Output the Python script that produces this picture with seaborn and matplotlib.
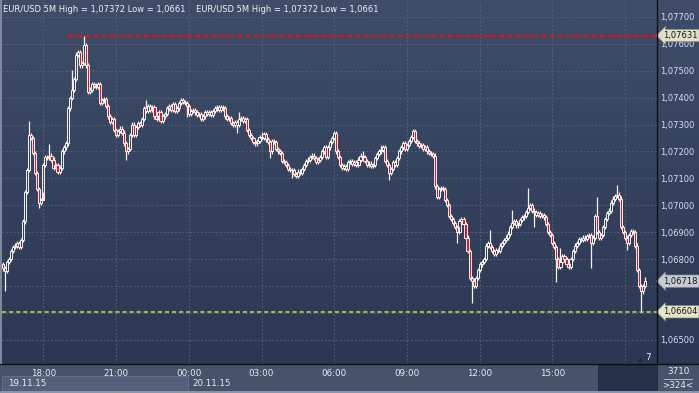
import numpy as np
import pandas as pd
import matplotlib
matplotlib.use("Agg")
import matplotlib.pyplot as plt
import matplotlib.transforms as mtransforms
from matplotlib.patches import Rectangle
from matplotlib.lines import Line2D
from matplotlib.colors import LinearSegmentedColormap
import seaborn as sns

# ---------------- data (points above 1.06000, 1 point = 0.00001) ----------------
close_pts = [
    765, 755, 790, 800, 830, 845, 850, 860, 845, 870,
    940, 1050, 1130, 1260, 1250, 1195, 1120, 1060, 1010, 1020,
    1150, 1180, 1175, 1185, 1170, 1140, 1150, 1125, 1140, 1200,
    1215, 1230, 1360, 1400, 1430, 1470, 1560, 1570, 1520, 1530,
    1595, 1520, 1420, 1430, 1450, 1445, 1440, 1450, 1380, 1390,
    1395, 1370, 1330, 1310, 1320, 1280, 1260, 1275, 1285, 1270,
    1230, 1200, 1210, 1260, 1300, 1260, 1290, 1305, 1300, 1320,
    1360, 1350, 1370, 1355, 1365, 1330, 1320, 1345, 1315, 1330,
    1340, 1360, 1370, 1355, 1375, 1350, 1360, 1380, 1390, 1385,
    1380, 1370, 1340, 1350, 1355, 1345, 1335, 1340, 1320, 1330,
    1345, 1340, 1345, 1335, 1350, 1360, 1365, 1355, 1365, 1360,
    1330, 1320, 1325, 1305, 1300, 1310, 1300, 1320, 1325, 1315,
    1320, 1280, 1260, 1250, 1235, 1230, 1240, 1255, 1250, 1265,
    1245, 1235, 1200, 1240, 1235, 1210, 1200, 1195, 1165, 1160,
    1150, 1135, 1130, 1130, 1115, 1110, 1125, 1120, 1135, 1150,
    1165, 1170, 1180, 1185, 1175, 1160, 1170, 1180, 1200, 1215,
    1180, 1215, 1235, 1250, 1268, 1200, 1180, 1150, 1140, 1145,
    1135, 1160, 1165, 1155, 1160, 1150, 1170, 1185, 1180, 1165,
    1150, 1155, 1145, 1150, 1175, 1190, 1200, 1205, 1215, 1165,
    1150, 1120, 1135, 1160, 1150, 1175, 1200, 1215, 1230, 1210,
    1225, 1240, 1255, 1275, 1240, 1230, 1220, 1225, 1210, 1215,
    1200, 1195, 1190, 1185, 1070, 1030, 1060, 1065, 1060, 1020,
    1000, 960, 950, 935, 920, 900, 940, 950, 930, 880,
    830, 730, 720, 700, 730, 760, 780, 790, 800, 850,
    860, 845, 830, 820, 835, 830, 850, 860, 870, 880,
    895, 920, 935, 940, 925, 930, 945, 955, 960, 975,
    990, 1000, 980, 975, 965, 970, 960, 965, 955, 930,
    900, 890, 860, 845, 800, 770, 790, 810, 800, 780,
    770, 800, 830, 850, 860, 875, 870, 880, 875, 885,
    890, 860, 880, 960, 900, 880, 890, 920, 950, 970,
    980, 1010, 1025, 1035, 1040, 1025, 920, 900, 880, 860,
    890, 905, 900, 850, 760, 700, 680, 700, 718,
]
first_open_pts = 780
# notable wick extremes (candle index -> points)
high_pts = {13: 1313, 23: 1228, 34: 1503, 40: 1631, 71: 1391, 117: 1345,
            128: 1272, 164: 1275, 178: 1200, 187: 1225, 203: 1283,
            241: 908, 252: 983, 260: 1064, 276: 840, 294: 1031, 304: 1075,
            318: 735}
low_pts = {1: 680, 18: 990, 20: 1050, 61: 1168, 91: 1328, 116: 1270,
           132: 1176, 143: 1102, 191: 1094, 225: 860, 232: 637, 263: 920,
           274: 715, 291: 767, 296: 870, 309: 835, 316: 604}
wick_pts = 8

tick_idx = [20, 56, 92, 128, 164, 200, 236, 272, 308]
tick_labels = ["18:00", "21:00", "00:00", "03:00", "06:00", "09:00", "12:00", "15:00", "18:00"]
price_ticks = [1.065, 1.066, 1.067, 1.068, 1.069, 1.070, 1.071,
               1.072, 1.073, 1.074, 1.075, 1.076, 1.077]
max_level = 1.07631
min_level = 1.06604
last_price = 1.06718
date_labels = ["19.11.15", "20.11.15"]
title_text = "EUR/USD 5M High = 1,07372 Low = 1,0661"
counter_top = "3710"
counter_bottom = ">324<"
marker_count = "7"

# ---------------- table ----------------
n = len(close_pts)
close = np.array(close_pts) / 1e5 + 1.06
opn = np.concatenate([[first_open_pts / 1e5 + 1.06], close[:-1]])
top = np.maximum(opn, close)
bot = np.minimum(opn, close)
high = top + wick_pts / 1e5
low = bot - wick_pts / 1e5
for k, v in high_pts.items():
    high[k] = v / 1e5 + 1.06
for k, v in low_pts.items():
    low[k] = v / 1e5 + 1.06
df = pd.DataFrame({"i": np.arange(n), "open": opn, "close": close,
                   "high": high, "low": low, "top": top, "bot": bot})
df["bear"] = df["close"] < df["open"]

# ---------------- style ----------------
sns.set_style("dark")
plt.rcParams["font.family"] = ["DejaVu Sans"]

W, H = 699, 393
fig = plt.figure(figsize=(W / 100, H / 100), dpi=100, facecolor="#46536b")


def fx(px):
    return px / W


def fy(py):
    return 1 - py / H


# gradient background (plot area + right scale)
bg = fig.add_axes([0, fy(364), 1, 364 / H])
cmap = LinearSegmentedColormap.from_list("g", ["#2b3753", "#3f4d69"])
grad = np.linspace(0, 1, 256).reshape(-1, 1)
bg.imshow(grad, aspect="auto", cmap=cmap, origin="lower", extent=[0, 1, 0, 1])
bg.set_axis_off()

ax = fig.add_axes([fx(2), fy(364), 655 / W, 364 / H])
ax.patch.set_alpha(0)
ax.set_xlim(-0.5, 323.8)
ax.set_ylim(1.06410, 1.07763)

# grid
covered = {1.066, 1.067}
ax.set_yticks(price_ticks)
ax.set_yticklabels(["" if v in covered else f"{v:.5f}".replace(".", ",")
                    for v in price_ticks])
ax.set_xticks(tick_idx)
ax.set_xticklabels(tick_labels)
ax.grid(True, color="#5a6781", linestyle=(0, (2, 2.5)), linewidth=0.6)
ax.set_axisbelow(True)
for s in ax.spines.values():
    s.set_visible(False)
ax.yaxis.tick_right()
ax.tick_params(axis="y", length=0, pad=2, labelsize=6, labelcolor="#d6e0ee")
ax.tick_params(axis="x", length=0, pad=3.5, labelsize=6.3, labelcolor="#e6ecf4")
ax.get_xticklabels()[-1].set_color("#6d7990")

# level lines
sns.lineplot(x=[32, 323.8], y=[max_level, max_level], ax=ax, color="#e3101c",
             linewidth=1.6, linestyle=(0, (2.4, 1.4)), zorder=4)
sns.lineplot(x=[-0.5, 323.8], y=[min_level, min_level], ax=ax, color="#8fc443",
             linewidth=1.5, linestyle=(0, (2.0, 1.4)), zorder=4)

# candles
wc = "#f6f2ec"
ax.vlines(df["i"], df["top"], df["high"], color=wc, linewidth=0.9, zorder=5)
ax.vlines(df["i"], df["low"], df["bot"], color=wc, linewidth=0.9, zorder=5)
heights = np.maximum(df["top"] - df["bot"], 0.000012)
faces = [("#e8102a" if b else (0, 0, 0, 0)) for b in df["bear"]]
ax.bar(df["i"], heights, bottom=df["bot"], width=1.05, color=faces,
       edgecolor=wc, linewidth=0.7, zorder=6)

# price tags
trans = mtransforms.blended_transform_factory(ax.transAxes, ax.transData)
for val, fc in [(max_level, "#dfe0c6"), (last_price, "#c6cad2"), (min_level, "#e4e6c6")]:
    ax.text(1 + 6 / 655, val, f"{val:.5f}".replace(".", ","), transform=trans,
            fontsize=6, color="#15181e", ha="left", va="center", zorder=10,
            clip_on=False,
            bbox=dict(boxstyle="larrow,pad=0.2", fc=fc, ec="#8c8c80", lw=0.5))

# separators
fig.add_artist(Line2D([fx(657), fx(657)], [fy(0), fy(364)], color="#0d1015", lw=1.0))
fig.add_artist(Line2D([0, 1], [fy(364), fy(364)], color="#0d1015", lw=1.0))

# bottom strip
fig.add_artist(Rectangle((fx(2), fy(391)), 186 / W, 15 / H, transform=fig.transFigure,
                         fc="#52607a", ec="#68758e", lw=0.6))
fig.add_artist(Rectangle((fx(598), fy(391)), 59 / W, 26.5 / H, transform=fig.transFigure,
                         fc="#27324a", ec="#1d2538", lw=0.6, zorder=0.5))
fig.add_artist(Rectangle((0, 0), 1, 2.5 / H, transform=fig.transFigure,
                         fc="#8a95a8", ec="none"))
fig.add_artist(Rectangle((0, fy(364)), 1.6 / W, 364 / H, transform=fig.transFigure,
                         fc="#7e899c", ec="none"))
fig.text(fx(8), fy(383.5), date_labels[0], fontsize=6.3, color="#e6ecf4", va="center")
fig.text(fx(192), fy(383.5), date_labels[1], fontsize=6.3, color="#e6ecf4", va="center")

fig.text(fx(678), fy(371.5), counter_top, fontsize=6.3, color="#e6ecf4", ha="center", va="center")
fig.add_artist(Line2D([fx(664), fx(692)], [fy(378.5), fy(378.5)], color="#c4ccd8", lw=0.6))
fig.text(fx(678), fy(385), counter_bottom, fontsize=6.3, color="#e6ecf4", ha="center", va="center")

fig.text(fx(648), fy(358), marker_count, fontsize=6.5, color="#eef2f8", ha="center", va="center")
fig.text(fx(640), fy(360), "\u25b2", fontsize=4.5, color="#1f2839", ha="center", va="center")

# titles
fig.text(fx(3), fy(10), title_text, fontsize=6.0, color="#eef2f8", va="center")
fig.text(fx(196), fy(10), title_text, fontsize=6.0, color="#eef2f8", va="center")

fig.savefig("out.png", dpi=100, facecolor=fig.get_facecolor())
